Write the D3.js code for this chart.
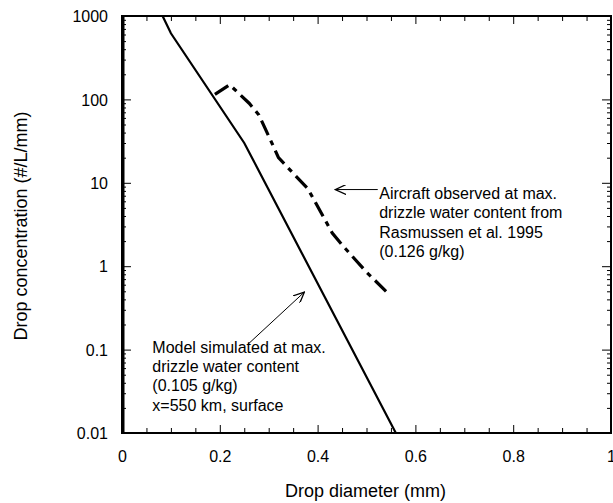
<!DOCTYPE html>
<html>
<head>
<meta charset="utf-8">
<script src="https://cdn.jsdelivr.net/npm/d3@7"></script>
<style>
  body { margin: 0; background: #fff; }
  svg text { font-family: "Liberation Sans", Arial, Helvetica, sans-serif; fill: #000; }
</style>
</head>
<body>
<div id="chart"></div>
<script>
// model simulated drop size distribution (diameter mm, #/L/mm)
const modelD = [0.083, 0.1, 0.25, 0.56];
const modelN = [1000, 620, 30, 0.01];

// aircraft observed (Rasmussen et al. 1995)
const obsD = [0.19, 0.22, 0.26, 0.28, 0.31, 0.32, 0.38, 0.43, 0.45, 0.50, 0.54];
const obsN = [115, 150, 90, 65, 27, 20, 8.5, 2.5, 1.8, 0.85, 0.5];

const xMajor = [0, 0.2, 0.4, 0.6, 0.8, 1];
const xMinor = [0.05, 0.1, 0.15, 0.25, 0.3, 0.35, 0.45, 0.5, 0.55, 0.65, 0.7, 0.75, 0.85, 0.9, 0.95];
const yMajor = [0.01, 0.1, 1, 10, 100, 1000];

const obsText = ['Aircraft observed at max.', 'drizzle water content from', 'Rasmussen et al. 1995', '(0.126 g/kg)'];
const modelText = ['Model simulated at max.', 'drizzle water content', '(0.105 g/kg)', 'x=550 km, surface'];

function renderChart() {
    let width = 613;
    let height = 503;
    let margin = { top: 16, right: 2, bottom: 70, left: 122 };

    let x = d3.scaleLinear()
        .domain([0, 1])
        .range([margin.left, width - margin.right]);

    let y = d3.scaleLog()
        .domain([0.01, 1000])
        .range([height - margin.bottom, margin.top]);

    // minor log ticks
    let yMinor = [];
    yMajor.slice(0, -1).forEach(v => {
        for (let k = 2; k <= 9; k++) yMinor.push(v * k);
    });

    const svg = d3.select('#chart')
        .append('svg')
        .attr('width', width)
        .attr('height', height);

    let fmt = d => d === 0 ? '0' : d === 1 ? '1' : String(d);

    let styleAxis = g => {
        g.select('.domain').remove();
        g.selectAll('line').attr('stroke', '#000').attr('stroke-width', 1);
        g.selectAll('text').style('font-size', '16px');
    };

    // bottom
    svg.append('g')
        .attr('transform', `translate(0,${y(0.01)})`)
        .call(d3.axisBottom(x).tickValues(xMajor).tickFormat(fmt).tickSize(-8).tickPadding(18))
        .call(styleAxis);
    svg.append('g')
        .attr('transform', `translate(0,${y(0.01)})`)
        .call(d3.axisBottom(x).tickValues(xMinor).tickFormat('').tickSize(-5))
        .call(styleAxis);
    // top
    svg.append('g')
        .attr('transform', `translate(0,${y(1000)})`)
        .call(d3.axisTop(x).tickValues(xMajor).tickFormat('').tickSize(-8))
        .call(styleAxis);
    svg.append('g')
        .attr('transform', `translate(0,${y(1000)})`)
        .call(d3.axisTop(x).tickValues(xMinor).tickFormat('').tickSize(-5))
        .call(styleAxis);
    // left
    svg.append('g')
        .attr('transform', `translate(${x(0)},0)`)
        .call(d3.axisLeft(y).tickValues(yMajor).tickFormat(d => String(d)).tickSize(-9).tickPadding(14))
        .call(styleAxis)
        .call(g => g.selectAll('text').attr('dy', '0.36em'));
    svg.append('g')
        .attr('transform', `translate(${x(0)},0)`)
        .call(d3.axisLeft(y).tickValues(yMinor).tickFormat('').tickSize(-4))
        .call(styleAxis);
    // right
    svg.append('g')
        .attr('transform', `translate(${x(1)},0)`)
        .call(d3.axisRight(y).tickValues(yMajor).tickFormat('').tickSize(-9))
        .call(styleAxis);
    svg.append('g')
        .attr('transform', `translate(${x(1)},0)`)
        .call(d3.axisRight(y).tickValues(yMinor).tickFormat('').tickSize(-4))
        .call(styleAxis);

    // frame
    svg.append('rect')
        .attr('x', x(0))
        .attr('y', y(1000))
        .attr('width', x(1) - x(0))
        .attr('height', y(0.01) - y(1000))
        .attr('fill', 'none')
        .attr('stroke', '#000')
        .attr('stroke-width', 2);
    svg.append('line')
        .attr('x1', x(0) + 1).attr('x2', x(0) + 1)
        .attr('y1', y(1000)).attr('y2', y(0.01))
        .attr('stroke', '#000')
        .attr('stroke-width', 3);

    let line = d3.line()
        .x(d => x(d[0]))
        .y(d => y(d[1]));

    svg.append('path')
        .datum(d3.zip(modelD, modelN))
        .attr('d', line)
        .attr('fill', 'none')
        .attr('stroke', '#000')
        .attr('stroke-width', 2.2);

    svg.append('path')
        .datum(d3.zip(obsD, obsN))
        .attr('d', line)
        .attr('fill', 'none')
        .attr('stroke', '#000')
        .attr('stroke-width', 3.2)
        .attr('stroke-dasharray', '16,6,5,6');

    // annotations
    svg.append('defs').append('marker')
        .attr('id', 'arr')
        .attr('viewBox', '0 0 12 10')
        .attr('refX', 11).attr('refY', 5)
        .attr('markerWidth', 12).attr('markerHeight', 10)
        .attr('markerUnits', 'userSpaceOnUse')
        .attr('orient', 'auto')
        .append('path')
        .attr('d', 'M0,0 L11,5 L0,10')
        .attr('fill', 'none')
        .attr('stroke', '#000')
        .attr('stroke-width', 1.3);

    svg.append('line')
        .attr('x1', x(0.523)).attr('y1', y(8.3))
        .attr('x2', x(0.436)).attr('y2', y(8.3))
        .attr('stroke', '#000')
        .attr('stroke-width', 1)
        .attr('marker-end', 'url(#arr)');

    svg.append('line')
        .attr('x1', x(0.257)).attr('y1', y(0.115))
        .attr('x2', x(0.373)).attr('y2', y(0.49))
        .attr('stroke', '#000')
        .attr('stroke-width', 1)
        .attr('marker-end', 'url(#arr)');

    svg.append('g').selectAll('text')
        .data(obsText)
        .join('text')
        .attr('x', x(0.526))
        .attr('y', (d, i) => 199 + i * 19.3)
        .style('font-size', '16px')
        .text(d => d);

    svg.append('g').selectAll('text')
        .data(modelText)
        .join('text')
        .attr('x', x(0.062))
        .attr('y', (d, i) => 353 + i * 19.2)
        .style('font-size', '16px')
        .text(d => d);

    // axis titles
    svg.append('text')
        .attr('x', (x(0) + x(1)) / 2 - 1)
        .attr('y', 497)
        .attr('text-anchor', 'middle')
        .style('font-size', '18px')
        .text('Drop diameter (mm)');

    svg.append('text')
        .attr('transform', `translate(27,226) rotate(-90)`)
        .attr('text-anchor', 'middle')
        .style('font-size', '18px')
        .text('Drop concentration (#/L/mm)');
}

renderChart();
</script>
</body>
</html>
